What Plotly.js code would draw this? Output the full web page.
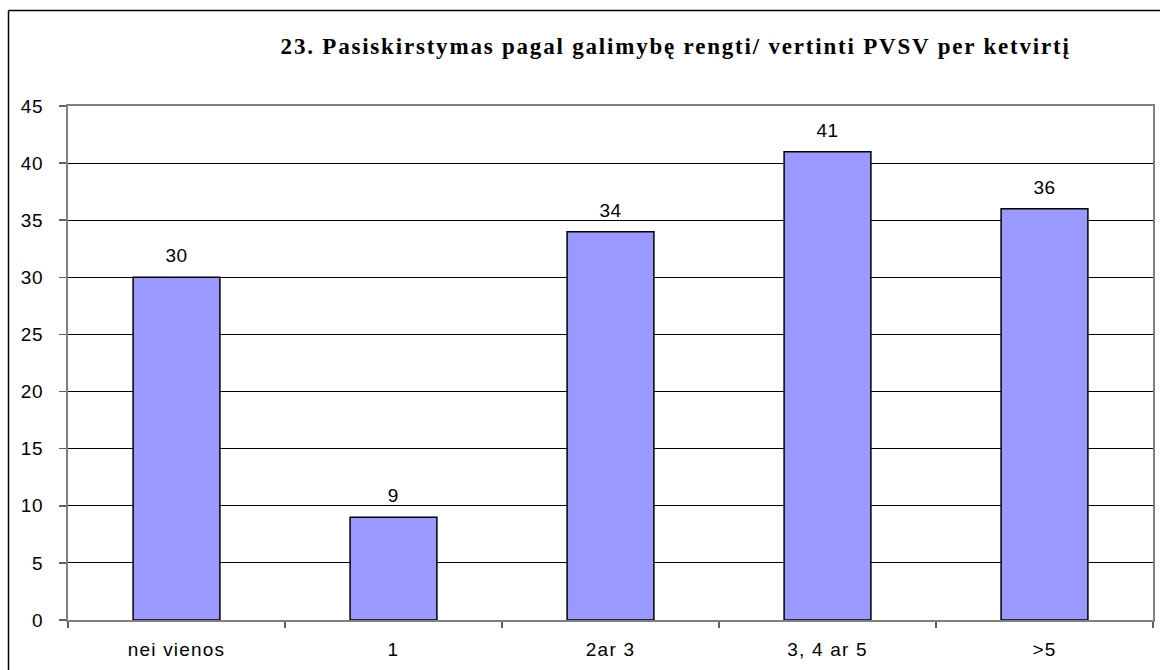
<!DOCTYPE html>
<html>
<head>
<meta charset="utf-8">
<script src="https://cdn.plot.ly/plotly-3.0.1.min.js"></script>
<style>
html,body{margin:0;padding:0;background:#fff;}
#chart{width:1160px;height:670px;}
</style>
</head>
<body>
<div id="chart"></div>
<script>
const categories = ["nei vienos", "1", "2ar 3", "3, 4 ar 5", ">5"];
const values = [30, 9, 34, 41, 36];
const yTicks = [0, 5, 10, 15, 20, 25, 30, 35, 40, 45];
const titleText = "23. Pasiskirstymas pagal galimybę rengti/ vertinti PVSV per ketvirtį";

const L = 68, R = 7, T = 106, B = 50, W = 1160, H = 670;
const pw = W - L - R, ph = H - T - B;
const px = v => (v - L) / pw;
const py = v => (H - B - v) / ph;
const sans = "Liberation Sans, Arial, sans-serif";

const trace = {
  type: "bar",
  x: categories,
  y: values,
  width: 0.4,
  marker: {color: "#9999FF", line: {color: "#000000", width: 1.5}},
  hoverinfo: "none"
};

const annotations = categories.map((c, i) => ({
  x: c, y: values[i], xref: "x", yref: "y",
  text: String(values[i]), showarrow: false,
  yanchor: "bottom", yshift: 9,
  font: {family: sans, size: 19, color: "#000"}
}));

const layout = {
  width: W, height: H,
  margin: {l: L, r: R, t: T, b: B, pad: 0},
  paper_bgcolor: "#fff", plot_bgcolor: "#fff",
  showlegend: false,
  title: {
    text: "<b>" + titleText + "</b>",
    x: 0.56, xanchor: "center", xref: "paper",
    y: 1 - 46 / H, yanchor: "middle", yref: "container",
    font: {family: "Liberation Serif, Times New Roman, serif", size: 23, color: "#000"}
  },
  xaxis: {
    type: "category",
    showline: true, linecolor: "#808080", linewidth: 2, mirror: true,
    ticks: "outside", tickson: "boundaries", ticklen: 6, tickcolor: "#606060", tickwidth: 1.5,
    tickfont: {family: sans, size: 19, color: "#000"},
    ticklabelstandoff: 11,
    showgrid: false, zeroline: false, fixedrange: true
  },
  yaxis: {
    range: [0, 45], tickvals: yTicks, ticktext: yTicks.map(String),
    showline: true, linecolor: "#808080", linewidth: 2, mirror: true,
    ticks: "outside", ticklen: 7, tickcolor: "#606060", tickwidth: 1.5,
    tickfont: {family: sans, size: 19, color: "#000"},
    ticklabelstandoff: 12,
    showgrid: true, gridcolor: "#000000", gridwidth: 1,
    zeroline: false, fixedrange: true
  },
  annotations: annotations,
  shapes: [
    {type: "line", xref: "paper", yref: "paper", x0: px(8.5), x1: px(1165), y0: py(10.5), y1: py(10.5), line: {color: "#000", width: 1.5}},
    {type: "line", xref: "paper", yref: "paper", x0: px(8.5), x1: px(8.5), y0: py(10.5), y1: py(680), line: {color: "#000", width: 1.5}}
  ]
};

Plotly.newPlot("chart", [trace], layout, {displayModeBar: false, staticPlot: true}).then(gd => {
  const t = gd.querySelector(".gtitle");
  if (t) t.style.letterSpacing = "1.8px";
  gd.querySelectorAll(".xtick text").forEach(e => e.style.letterSpacing = "1.2px");
  gd.querySelectorAll(".ytick text, .annotation-text").forEach(e => e.style.letterSpacing = "0.6px");
});
</script>
</body>
</html>
